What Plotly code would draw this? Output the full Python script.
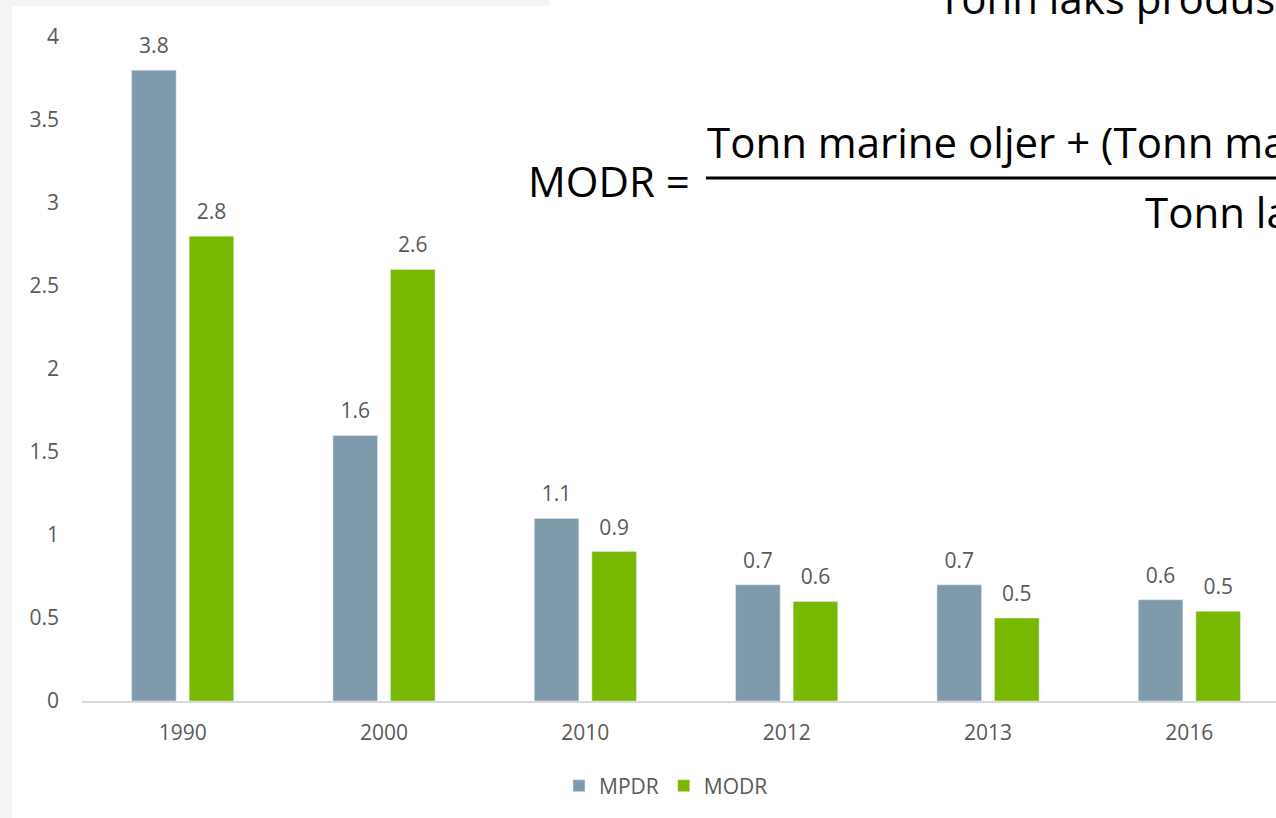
import plotly.graph_objects as go

# 数据
years = ["1990", "2000", "2010", "2012", "2013", "2016"]
mpdr = [3.8, 1.6, 1.1, 0.7, 0.7, 0.61]
modr = [2.8, 2.6, 0.9, 0.6, 0.5, 0.54]

W, H = 1276, 818
L, T, B = 82, 37, 117
PW, PH = W - L, H - T - B


# 像素 -> paper 坐标
def px(x):
    return (x - L) / PW


def py(y):
    return (H - B - y) / PH


# 数值标签：外层字号小，用空行把标签往上抬一点
label_tpl = ("<span style='font-size:21px'>%{y:.1f}</span>"
             "<br><span style='font-size:4px'> </span>")

fig = go.Figure()
fig.add_trace(go.Bar(
    x=years, y=mpdr, name="MPDR",
    marker_color="#7F9BAB",
    texttemplate=label_tpl, textposition="outside",
    textfont=dict(size=10, color="#595959"),
    cliponaxis=False,
))
fig.add_trace(go.Bar(
    x=years, y=modr, name="MODR",
    marker_color="#78B800",
    texttemplate=label_tpl, textposition="outside",
    textfont=dict(size=10, color="#595959"),
    cliponaxis=False,
))

# 背景：左侧、上方浅灰条
shapes = [
    dict(type="rect", xref="paper", yref="paper", layer="below",
         x0=px(12), x1=px(W + 50), y0=py(H + 50), y1=py(6),
         fillcolor="white", line_width=0),
    dict(type="rect", xref="paper", yref="paper", layer="below",
         x0=px(550), x1=px(W + 50), y0=py(10), y1=py(-10),
         fillcolor="white", line_width=0),
    # 分数线
    dict(type="line", xref="paper", yref="paper",
         x0=px(706), x1=px(W + 100), y0=py(178), y1=py(178),
         line=dict(color="black", width=3)),
]

formula_font = dict(family="Open Sans, sans-serif", size=42, color="black")
annotations = [
    dict(text="Tonn laks produsert", x=px(936), y=py(-2)),
    dict(text="MODR =", x=px(526), y=py(180)),
    dict(text="Tonn marine oljer + (Tonn marine oljer i fiskemel)", x=px(705), y=py(142)),
    dict(text="Tonn laks produsert", x=px(1143), y=py(211)),
]
for a in annotations:
    a.update(xref="paper", yref="paper", xanchor="left", yanchor="middle",
             showarrow=False, font=formula_font)

fig.update_layout(
    width=W, height=H,
    margin=dict(l=L, r=0, t=T, b=B),
    paper_bgcolor="#F4F4F4",
    plot_bgcolor="rgba(0,0,0,0)",
    barmode="group",
    bargap=0.428,
    bargroupgap=0.226,
    font=dict(family="Open Sans, sans-serif", size=21, color="#595959"),
    showlegend=True,
    legend=dict(orientation="h", x=px(666), y=py(786),
                xanchor="center", yanchor="middle",
                font=dict(size=21, color="#595959"),
                bgcolor="rgba(0,0,0,0)"),
    shapes=shapes,
    annotations=annotations,
)

fig.update_xaxes(
    range=[-0.5, 5.5 - 14 / 201],
    showline=True, linecolor="#D9D9D9", linewidth=2,
    showgrid=False, ticks="", ticklabelstandoff=12,
    tickfont=dict(size=21, color="#595959"),
)
fig.update_yaxes(
    range=[0, 4], dtick=0.5,
    showline=False, showgrid=False, zeroline=False,
    ticks="", ticklabelstandoff=22,
    tickfont=dict(size=21, color="#595959"),
)

fig.write_html("out.html", config={"displayModeBar": False},
               post_script="document.body.style.margin='0';")
